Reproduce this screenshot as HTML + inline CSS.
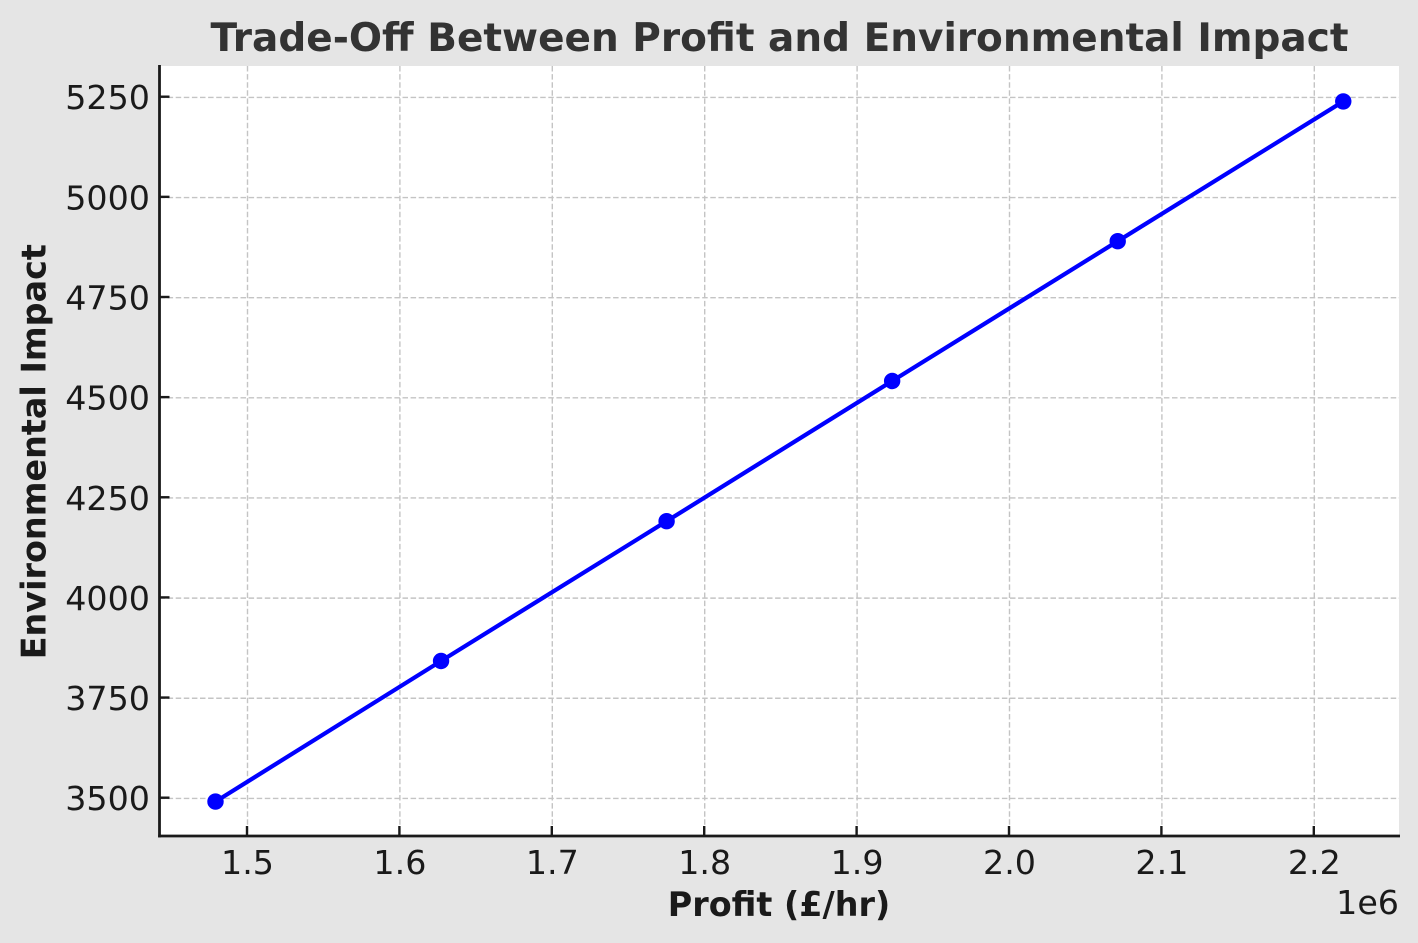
<!DOCTYPE html>
<html>
<head>
<meta charset="utf-8">
<title>Trade-Off Between Profit and Environmental Impact</title>
<style>
html,body{margin:0;padding:0;width:1418px;height:943px;overflow:hidden;background:#e5e5e5;}
svg{display:block;}
text{font-family:"DejaVu Sans","Liberation Sans",sans-serif;}
</style>
</head>
<body>
<svg id="chart" width="1418" height="943" viewBox="0 0 1418 943" xmlns="http://www.w3.org/2000/svg"></svg>
<script>
const xTicks = [1.5, 1.6, 1.7, 1.8, 1.9, 2.0, 2.1, 2.2];
const yTicks = [3500, 3750, 4000, 4250, 4500, 4750, 5000, 5250];
const profitValues = [1479000, 1627000, 1775000, 1923000, 2071000, 2219000];
const impactValues = [3492, 3843, 4192, 4542, 4891, 5240];

const svgNS = 'http://www.w3.org/2000/svg';
const svg = document.getElementById('chart');
const plotLeft = 159.5, plotRight = 1399, plotTop = 66, plotBottom = 836;

function xScale(v) { return 247.5 + (v - 1500000) * (1524 / 1000000); }
function yScale(v) { return 798.4 - (v - 3500) * (701 / 1750); }

function make(tag, attrs, text) {
  const el = document.createElementNS(svgNS, tag);
  for (const k in attrs) el.setAttribute(k, attrs[k]);
  if (text !== undefined) el.textContent = text;
  svg.appendChild(el);
  return el;
}

const plotBg = make('rect', {x: plotLeft, y: plotTop, width: plotRight - plotLeft, height: plotBottom - plotTop, fill: '#ffffff'});



const gridStyle = {stroke: '#c4c4c4', 'stroke-width': 1.4, 'stroke-dasharray': '5.5 2.6', fill: 'none'};

xTicks.forEach(function (t) {
  const x = xScale(t * 1000000);
  const grid = make('line', Object.assign({x1: x, x2: x, y1: plotTop, y2: plotBottom}, gridStyle));
  
  
  const tick = make('line', {x1: x - 0.5, x2: x - 0.5, y1: plotBottom, y2: plotBottom - 10, stroke: '#1a1a1a', 'stroke-width': 2.4});
  
  
  const label = make('text', {x: x, y: 874, 'text-anchor': 'middle', 'font-size': 33.3, fill: '#1a1a1a'}, t.toFixed(1));
  
  
});

yTicks.forEach(function (t) {
  const y = yScale(t);
  const grid = make('line', Object.assign({x1: plotLeft, x2: plotRight, y1: y, y2: y}, gridStyle));
  
  
  const tick = make('line', {x1: plotLeft, x2: plotLeft + 10, y1: y - 0.7, y2: y - 0.7, stroke: '#1a1a1a', 'stroke-width': 2.4});
  
  
  const label = make('text', {x: 150, y: y + 11.8, 'text-anchor': 'end', 'font-size': 33.3, fill: '#1a1a1a'}, String(t));
  
  
});

const pts = profitValues.map(function (v, i) { return xScale(v) + ',' + yScale(impactValues[i]); }).join(' ');
const line = make('polyline', {points: pts, fill: 'none', stroke: '#0000ff', 'stroke-width': 4.2, 'stroke-linejoin': 'round'});



profitValues.forEach(function (v, i) {
  const c = make('circle', {cx: xScale(v), cy: yScale(impactValues[i]), r: 8.2, fill: '#0000ff'});
  
  
});

const leftSpine = make('line', {x1: plotLeft, x2: plotLeft, y1: plotTop - 1, y2: plotBottom + 1.4, stroke: '#1a1a1a', 'stroke-width': 2.8});


const bottomSpine = make('line', {x1: plotLeft - 1.4, x2: plotRight + 1, y1: plotBottom, y2: plotBottom, stroke: '#1a1a1a', 'stroke-width': 2.8});



const title = make('text', {x: 779.5, y: 51, 'text-anchor': 'middle', 'font-size': 39, 'font-weight': 'bold', fill: '#333333'}, 'Trade-Off Between Profit and Environmental Impact');



const xTitle = make('text', {x: 779, y: 916, 'text-anchor': 'middle', 'font-size': 33.4, 'font-weight': 'bold', fill: '#1a1a1a'}, 'Profit (£/hr)');



const yTitle = make('text', {transform: 'translate(45.5 451.7) rotate(-90)', 'text-anchor': 'middle', 'font-size': 33.4, 'font-weight': 'bold', fill: '#1a1a1a'}, 'Environmental Impact');



const offset = make('text', {x: 1399, y: 914, 'text-anchor': 'end', 'font-size': 33.3, fill: '#1a1a1a'}, '1e6');


</script>
</body>
</html>
